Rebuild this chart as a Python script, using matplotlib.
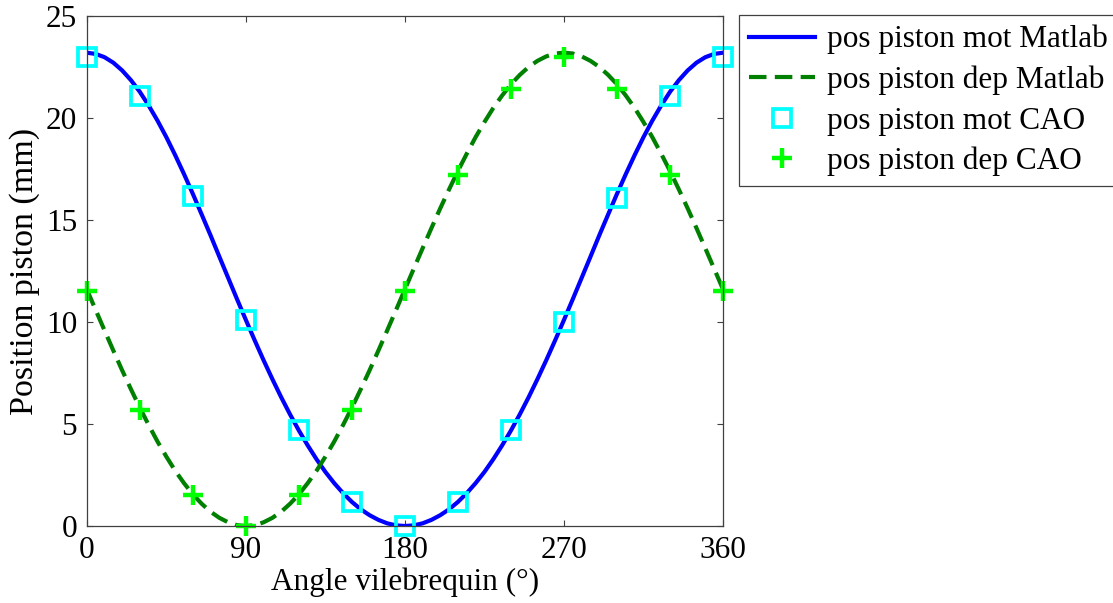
import matplotlib
matplotlib.use("Agg")
from matplotlib import pyplot

# angle grid for the Matlab curves (deg)
angle_line = list(range(0, 361, 5))
pos_mot_matlab = [23.20, 23.14, 22.98, 22.71, 22.33, 21.85, 21.28, 20.61, 19.87, 19.06,
                  18.18, 17.25, 16.28, 15.27, 14.25, 13.20, 12.16, 11.12, 10.10, 9.10,
                  8.13, 7.20, 6.31, 5.47, 4.68, 3.95, 3.27, 2.65, 2.10, 1.61,
                  1.18, 0.82, 0.53, 0.30, 0.13, 0.03, 0.00,
                  0.03, 0.13, 0.30, 0.53, 0.82, 1.18, 1.61, 2.10, 2.65, 3.27,
                  3.95, 4.68, 5.47, 6.31, 7.20, 8.13, 9.10, 10.10, 11.12, 12.16,
                  13.20, 14.25, 15.27, 16.28, 17.25, 18.18, 19.06, 19.87, 20.61, 21.28,
                  21.85, 22.33, 22.71, 22.98, 23.14, 23.20]
pos_dep_matlab = [11.60, 10.59, 9.59, 8.60, 7.63, 6.70, 5.80, 4.95, 4.14, 3.40,
                  2.71, 2.10, 1.55, 1.09, 0.70, 0.40, 0.18, 0.04, 0.00,
                  0.04, 0.18, 0.40, 0.70, 1.09, 1.55, 2.10, 2.71, 3.40, 4.14,
                  4.95, 5.80, 6.70, 7.63, 8.60, 9.59, 10.59, 11.60,
                  12.61, 13.61, 14.60, 15.57, 16.50, 17.40, 18.25, 19.06, 19.80, 20.49,
                  21.10, 21.65, 22.11, 22.50, 22.80, 23.02, 23.16, 23.20,
                  23.16, 23.02, 22.80, 22.50, 22.11, 21.65, 21.10, 20.49, 19.80, 19.06,
                  18.25, 17.40, 16.50, 15.57, 14.60, 13.61, 12.61, 11.60]

# CAO points
angle_cao = list(range(0, 361, 30))
pos_mot_cao = [23.0, 21.1, 16.2, 10.1, 4.7, 1.2, 0.0, 1.2, 4.7, 10.0, 16.1, 21.1, 23.0]
pos_dep_cao = [11.5, 5.7, 1.5, 0.0, 1.5, 5.7, 11.5, 17.2, 21.4, 23.0, 21.4, 17.2, 11.5]

xticks = [0, 90, 180, 270, 360]
yticks = [0, 5, 10, 15, 20, 25]

pyplot.rcParams["font.family"] = ["Liberation Serif", "DejaVu Serif"]
pyplot.rcParams["font.size"] = 22.5

fig = pyplot.figure(figsize=(11.13, 6.03), dpi=100)
ax = fig.add_axes([0.078, 0.1277, 0.5716, 0.8458])

ax.plot(angle_line, pos_mot_matlab, color=(0, 0, 1), lw=3, label="pos piston mot Matlab")
ax.plot(angle_line, pos_dep_matlab, color=(0, 0.5, 0), lw=3, linestyle=(0, (4.2, 2.0)),
        label="pos piston dep Matlab")
ax.plot(angle_cao, pos_mot_cao, linestyle="none", marker="s", markersize=13,
        markerfacecolor="none", markeredgecolor=(0, 1, 1), markeredgewidth=2.7,
        label="pos piston mot CAO", clip_on=False)
ax.plot(angle_cao, pos_dep_cao, linestyle="none", marker="+", markersize=15,
        markeredgecolor=(0, 1, 0), markeredgewidth=3.2,
        label="pos piston dep CAO", clip_on=False)

ax.set_xlim(0, 360)
ax.set_ylim(0, 25)
ax.set_xticks(xticks)
ax.set_yticks(yticks)
ax.tick_params(direction="in", top=True, right=True, length=4, width=0.8,
               color="#404040", labelsize=22.5, pad=7)
for s in ax.spines.values():
    s.set_color("#404040")
    s.set_linewidth(0.9)

ax.set_xlabel("Angle vilebrequin (°)", fontsize=22.5, labelpad=2)
ax.set_ylabel("Position piston (mm)", fontsize=24.5, labelpad=4)

leg = fig.legend(loc="upper left", bbox_to_anchor=(739 / 1113, 1 - 15 / 603),
                 fancybox=False, framealpha=1, edgecolor="#404040", fontsize=22.5,
                 handlelength=2.1, handletextpad=0.4, borderpad=0.32, labelspacing=0.36,
                 borderaxespad=0)
leg.get_frame().set_linewidth(0.9)

fig.savefig("out.png", dpi=100)
